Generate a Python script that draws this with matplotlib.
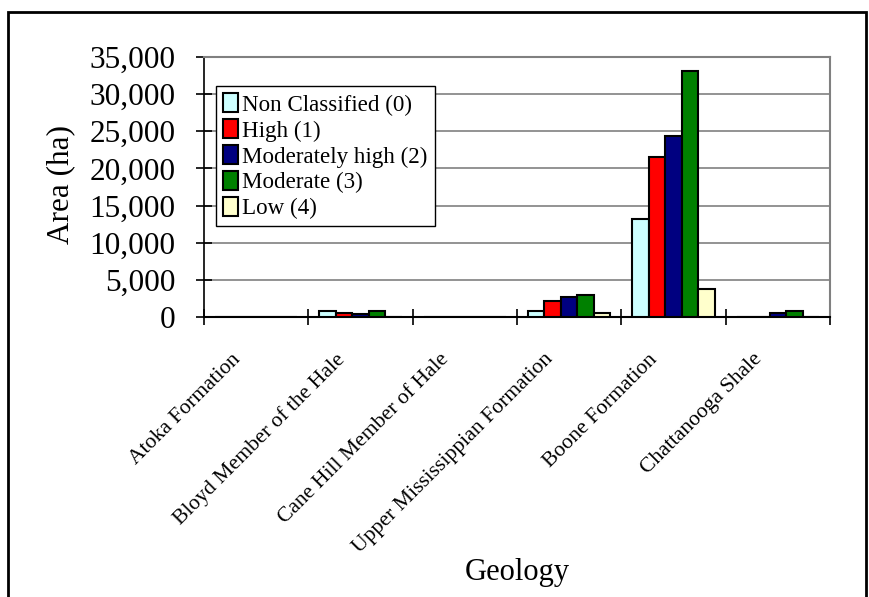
import numpy as np
import matplotlib
matplotlib.use("Agg")
import matplotlib.pyplot as plt
import matplotlib.patches as mpatches
from matplotlib.ticker import FuncFormatter, MultipleLocator

# Data (area in ha per geology unit, by susceptibility class)
geology = ['Atoka Formation', 'Bloyd Member of the Hale', 'Cane Hill Member of Hale',
           'Upper Mississippian Formation', 'Boone Formation', 'Chattanooga Shale']
classes = ['Non Classified (0)', 'High (1)', 'Moderately high (2)', 'Moderate (3)', 'Low (4)']
non_classified = [0, 860, 0, 860, 13230, 0]
high = [0, 550, 0, 2190, 21490, 0]
moderately_high = [0, 340, 0, 2760, 24430, 550]
moderate = [0, 860, 0, 3020, 33090, 860]
low = [0, 0, 0, 550, 3800, 0]
colors = ['#CCFFFF', '#FF0000', '#000080', '#008000', '#FFFFCC']

series = [non_classified, high, moderately_high, moderate, low]

plt.rcParams['font.family'] = ['Liberation Serif', 'DejaVu Serif']

fig = plt.figure(figsize=(8.7, 5.97), dpi=100)
ax = fig.add_axes([0.2345, 0.469, 0.7195, 0.4355])

x = np.arange(len(geology))
w = 0.158
for i, (vals, lab, col) in enumerate(zip(series, classes, colors)):
    ax.bar(x + (i - 2) * w, vals, width=w, color=col, edgecolor='black',
           linewidth=1.5, label=lab, zorder=3)

ax.set_xlim(-0.5, len(geology) - 0.5)
ax.set_ylim(0, 35000)
ax.yaxis.set_major_locator(MultipleLocator(5000))
ax.yaxis.set_major_formatter(FuncFormatter(lambda v, p: f'{int(v):,}'))
ax.grid(axis='y', color='#808080', linewidth=1.2, zorder=0)

# category separators as ticks, names as rotated text under each category
ax.set_xticks(np.arange(-0.5, len(geology)))
ax.set_xticklabels([])
ax.tick_params(axis='x', length=11, width=1.2, direction='inout', color='black')
ax.tick_params(axis='y', labelsize=22.5, length=11, width=1.2, direction='inout', pad=15)
for xi, name in zip(x, geology):
    ax.annotate(name, xy=(xi, 0), xycoords=('data', 'axes fraction'),
                xytext=(-13.5, -28.5), textcoords='offset points',
                rotation=45, rotation_mode='anchor', ha='right', va='center',
                fontsize=15.6)

for s in ['top', 'right']:
    ax.spines[s].set_color('#808080')
    ax.spines[s].set_linewidth(1.5)
ax.spines['left'].set_color('black')
ax.spines['bottom'].set_color('black')
ax.spines['left'].set_linewidth(1.2)
ax.spines['bottom'].set_linewidth(1.5)

ax.set_ylabel('Area (ha)', fontsize=22.5)
ax.yaxis.set_label_coords(-0.205, 0.51)
ax.set_xlabel('Geology', fontsize=22)
ax.xaxis.set_label_coords(0.5, -0.927)
ax.xaxis.label.set_va('top')

leg = ax.legend(loc='upper left', bbox_to_anchor=(0.019, 0.888), fontsize=16.6,
                frameon=True, fancybox=False, edgecolor='black',
                handlelength=0.65, handleheight=0.9, handletextpad=0.2,
                labelspacing=0.15, borderpad=0.3, borderaxespad=0, framealpha=1)
leg.get_frame().set_linewidth(1.0)

# outer chart border
fig.patches.append(mpatches.Rectangle((0.0095, -0.05), 0.986, 1.03, transform=fig.transFigure,
                                      fill=False, edgecolor='black', linewidth=2))

fig.savefig('out.png', dpi=100)
